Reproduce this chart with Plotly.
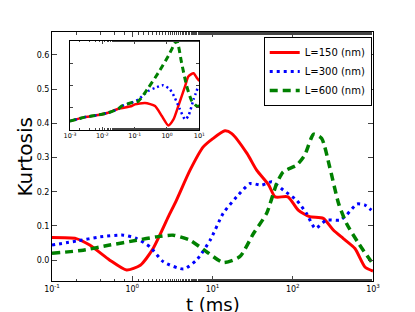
import plotly.graph_objects as go

# ---- main panel data (t in ms, kurtosis) ----
t150 = [0.1, 0.2, 0.295, 0.525, 0.85, 1.26, 1.82, 2.82, 3.55, 5.25, 7.67, 10.2, 14.3, 17.4, 26.9, 35.5, 50.1, 60.3, 87.1, 117, 162, 240, 320, 427, 596, 794, 1000]
k150 = [0.066, 0.063, 0.044, 0.0, -0.029, -0.015, 0.034, 0.127, 0.175, 0.263, 0.331, 0.356, 0.378, 0.37, 0.312, 0.263, 0.22, 0.185, 0.185, 0.146, 0.127, 0.122, 0.088, 0.063, 0.034, -0.02, -0.032]

t300 = [0.1, 0.204, 0.398, 0.776, 1.135, 1.66, 2.45, 4.37, 6.31, 9.33, 13.6, 20.0, 29.5, 40.7, 55.0, 75.9, 112, 148, 191, 263, 389, 468, 631, 794, 955]
k300 = [0.044, 0.056, 0.068, 0.073, 0.063, 0.039, -0.005, -0.026, 0.0, 0.058, 0.137, 0.185, 0.224, 0.219, 0.229, 0.205, 0.175, 0.137, 0.093, 0.117, 0.117, 0.132, 0.164, 0.161, 0.146]

t600 = [0.1, 0.245, 0.525, 1.135, 2.0, 3.24, 5.25, 8.51, 13.6, 21.9, 32.4, 47.3, 63.1, 75.9, 112, 141, 182, 229, 288, 372, 468, 661, 955]
k600 = [0.02, 0.029, 0.044, 0.058, 0.068, 0.073, 0.058, 0.024, -0.007, 0.01, 0.078, 0.137, 0.224, 0.258, 0.278, 0.307, 0.368, 0.356, 0.273, 0.166, 0.107, 0.049, -0.005]

# ---- inset data (t in ms, relative kurtosis) ----
ti_common = [0.001, 0.00288, 0.00741, 0.0151, 0.0316]
ki_common = [0.096, 0.141, 0.164, 0.19, 0.235]

ti150 = ti_common + [0.0813, 0.102, 0.209, 0.427, 0.692, 1.10, 1.585, 2.24, 3.63, 4.57, 6.61, 8.32, 10.0]
ki150 = ki_common + [0.266, 0.285, 0.30, 0.266, 0.153, 0.047, 0.115, 0.266, 0.49, 0.60, 0.635, 0.585, 0.55]

ti300 = ti_common + [0.0398, 0.0741, 0.129, 0.263, 0.427, 0.759, 1.23, 1.74, 2.51, 3.63, 4.57, 6.61, 9.33]
ki300 = ki_common + [0.266, 0.30, 0.34, 0.435, 0.47, 0.50, 0.454, 0.36, 0.228, 0.115, 0.153, 0.34, 0.49]

ti600 = ti_common + [0.0398, 0.0741, 0.129, 0.263, 0.537, 1.10, 2.0, 2.82, 4.07, 5.89, 8.32, 10.0]
ki600 = ki_common + [0.266, 0.30, 0.32, 0.47, 0.64, 0.83, 1.0, 0.755, 0.49, 0.32, 0.266, 0.266]

labels = ["L=150 (nm)", "L=300 (nm)", "L=600 (nm)"]
x_title = "t (ms)"
y_title = "Kurtosis"
main_ticks_x = [0.1, 1, 10, 100, 1000]
main_ticktext_x = ["10<sup>-1</sup>", "10<sup>0</sup>", "10<sup>1</sup>", "10<sup>2</sup>", "10<sup>3</sup>"]
inset_ticks_x = [0.001, 0.01, 0.1, 1, 10]
inset_ticktext_x = ["10<sup>-3</sup>", "10<sup>-2</sup>", "10<sup>-1</sup>", "10<sup>0</sup>", "10<sup>1</sup>"]
y_ticks = [0.0, 0.1, 0.2, 0.3, 0.4, 0.5, 0.6]

RED, BLUE, GREEN = "#ff0000", "#0000ff", "#008000"
FONT = "DejaVu Sans"
DOT = "3px,4px"
DASH = "8px,5px"

fig = go.Figure()
fig.add_trace(go.Scatter(x=t150, y=k150, mode="lines", name=labels[0],
                         line=dict(color=RED, width=3, shape="spline", smoothing=0.6)))
fig.add_trace(go.Scatter(x=t300, y=k300, mode="lines", name=labels[1],
                         line=dict(color=BLUE, width=3, dash=DOT, shape="spline", smoothing=0.6)))
fig.add_trace(go.Scatter(x=t600, y=k600, mode="lines", name=labels[2],
                         line=dict(color=GREEN, width=3.5, dash=DASH, shape="spline", smoothing=0.6)))

fig.add_trace(go.Scatter(x=ti150, y=ki150, mode="lines", showlegend=False, xaxis="x2", yaxis="y2",
                         line=dict(color=RED, width=2.5, shape="spline", smoothing=0.6)))
fig.add_trace(go.Scatter(x=ti300, y=ki300, mode="lines", showlegend=False, xaxis="x2", yaxis="y2",
                         line=dict(color=BLUE, width=2.5, dash="2px,3px", shape="spline", smoothing=0.6)))
fig.add_trace(go.Scatter(x=ti600, y=ki600, mode="lines", showlegend=False, xaxis="x2", yaxis="y2",
                         line=dict(color=GREEN, width=3, dash="6px,4px", shape="spline", smoothing=0.6)))

axis_common = dict(showline=True, linecolor="black", linewidth=1, mirror="ticks",
                   ticks="inside", showgrid=False, zeroline=False)

# page has an 8px body margin, so the figure is sized to fit the 415x312 window
fig.update_layout(
    width=407, height=304,
    margin=dict(l=44, r=42, t=24, b=31, autoexpand=False),
    paper_bgcolor="white", plot_bgcolor="white",
    font=dict(family=FONT, color="black", size=10),
    xaxis=dict(type="log", range=[-1, 3], tickvals=main_ticks_x, ticktext=main_ticktext_x,
               ticklen=5, tickfont=dict(size=8),
               minor=dict(ticks="inside", ticklen=2.5, showgrid=False),
               **axis_common),
    yaxis=dict(range=[-0.061, 0.667], tickvals=y_ticks, tickformat=".1f", ticklen=5,
               tickfont=dict(size=8), **axis_common),
    xaxis2=dict(type="log", range=[-3, 1], domain=[0.056, 0.459], anchor="y2",
                tickvals=inset_ticks_x, ticktext=inset_ticktext_x, ticklen=3,
                tickfont=dict(size=6.5), minor=dict(ticks="inside", ticklen=1.5, showgrid=False),
                **axis_common),
    yaxis2=dict(range=[0, 1.0], domain=[0.608, 0.964], anchor="x2", showticklabels=False,
                dtick=0.25, ticklen=3, **axis_common),
    legend=dict(x=0.996, y=0.98, xanchor="right", yanchor="top",
                bgcolor="white", bordercolor="black", borderwidth=1,
                font=dict(size=10), itemwidth=30, tracegroupgap=0),
    annotations=[
        dict(text=x_title, xref="paper", yref="paper", x=0.5, y=0,
             yshift=-23, xanchor="center", yanchor="middle",
             showarrow=False, font=dict(size=18)),
        dict(text=y_title, xref="paper", yref="paper", x=0, y=0.5, textangle=-90,
             xshift=-28, xanchor="center", yanchor="middle",
             showarrow=False, font=dict(size=20)),
    ],
)

fig.write_html("out.html")
